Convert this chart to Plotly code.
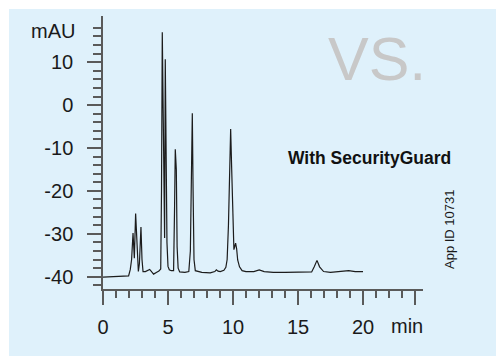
import plotly.graph_objects as go

# Chromatogram (time in min, absorbance in mAU)
time_min = [0, 1.0, 1.97, 2.1, 2.2, 2.31, 2.41, 2.51, 2.6, 2.72, 2.8, 2.92, 3.0, 3.08,
            3.26, 3.45, 3.59, 3.75, 3.89, 4.1, 4.3, 4.44, 4.5, 4.56, 4.62, 4.7, 4.74,
            4.79, 4.85, 4.92, 5.0, 5.1, 5.25, 5.43, 5.5, 5.56, 5.64, 5.7, 5.78, 5.9,
            6.3, 6.6, 6.72, 6.8, 6.87, 6.93, 7.0, 7.1, 7.6, 8.25, 8.6, 8.72, 8.85,
            9.02, 9.3, 9.45, 9.55, 9.65, 9.75, 9.82, 9.9, 9.98, 10.07, 10.2, 10.28,
            10.36, 10.5, 10.7, 11.0, 11.6, 12.02, 12.4, 13.1, 14.0, 15.2, 16.05,
            16.25, 16.46, 16.66, 16.97, 17.5, 18.5, 18.9, 19.4, 20.0]
mau = [-40.1, -40.0, -39.8, -38.3, -36.0, -29.8, -35.7, -25.3, -33.0, -38.8, -37.0,
       -28.4, -36.0, -38.8, -38.8, -38.6, -38.3, -38.9, -39.4, -39.0, -38.7, -38.2,
       -20.0, 17.0, -5.0, -28.0, -31.0, 10.7, -10.0, -32.0, -37.6, -38.4, -38.6,
       -38.6, -25.0, -10.3, -15.0, -33.0, -38.0, -38.9, -39.0, -38.8, -34.0, -18.0,
       -1.9, -20.0, -36.0, -38.6, -39.0, -39.1, -38.8, -38.4, -38.7, -38.8, -38.5,
       -37.8, -36.0, -28.0, -12.0, -5.6, -15.0, -28.0, -33.7, -32.2, -33.5, -36.1,
       -37.7, -38.6, -38.8, -38.8, -38.4, -38.8, -39.0, -39.0, -39.0, -38.9, -37.7,
       -36.2, -37.7, -38.8, -39.0, -38.7, -38.6, -38.8, -38.8]

x_tick_vals = [0, 5, 10, 15, 20, 24]
x_tick_text = ["0", "5", "10", "15", "20", ""]
y_tick_vals = [-40, -30, -20, -10, 0, 10]
y_tick_text = ["-40", "-30", "-20", "-10", "0", "10"]
y_minor_vals = list(range(-42, 20, 2))

BG = "#dff1fb"
AX = "#5a5a5a"
TXT = "#1a1a1a"
FONT = "Liberation Sans, Arial, Helvetica, sans-serif"

L, R, T, B = 103, 73, 16, 67
W, H = 496, 356
pw, ph = W - L - R, H - T - B

fig = go.Figure()
fig.add_trace(go.Scatter(x=time_min, y=mau, mode="lines",
                         line=dict(color="#1c1c1c", width=1.2),
                         hoverinfo="skip", showlegend=False))

fig.update_layout(
    width=W, height=H,
    margin=dict(l=L, r=R, t=T, b=B, pad=0),
    paper_bgcolor="white",
    plot_bgcolor="rgba(0,0,0,0)",
    font=dict(family=FONT, color=TXT, size=20),
    shapes=[dict(type="rect", xref="paper", yref="paper",
                 x0=(9 - L) / pw, x1=(W + 5 - L) / pw,
                 y0=1 - (H + 5 - T) / ph, y1=1 - (9 - T) / ph,
                 fillcolor=BG, line=dict(width=0), layer="below")],
    xaxis=dict(range=[0, pw / 13.0], showgrid=False, zeroline=False,
               showline=True, linecolor=AX, linewidth=1.5,
               tickmode="array", tickvals=x_tick_vals, ticktext=x_tick_text,
               ticks="outside", ticklen=14, tickwidth=1.5, tickcolor=AX,
               ticklabelstandoff=5,
               tickfont=dict(size=20, color=TXT, family=FONT),
               minor=dict(dtick=1, tick0=0, ticks="outside", ticklen=7,
                          tickwidth=1.5, tickcolor=AX, showgrid=False)),
    yaxis=dict(range=[-42.87, 20.77], showgrid=False, zeroline=False,
               showline=True, linecolor=AX, linewidth=1.5,
               tickmode="array", tickvals=y_tick_vals, ticktext=y_tick_text,
               ticks="outside", ticklen=14, tickwidth=1.5, tickcolor=AX,
               ticklabelstandoff=10,
               tickfont=dict(size=20, color=TXT, family=FONT),
               minor=dict(tickmode="array", tickvals=y_minor_vals,
                          ticks="outside", ticklen=8, tickwidth=1.5,
                          tickcolor=AX, showgrid=False)),
)

fig.add_annotation(text="mAU", xref="paper", yref="paper",
                   x=(77 - L) / pw, y=1 - (31 - T) / ph,
                   xanchor="right", yanchor="middle", showarrow=False,
                   font=dict(size=20, color=TXT, family=FONT))
fig.add_annotation(text="min", xref="paper", yref="paper",
                   x=(406.5 - L) / pw, y=1 - (325.5 - T) / ph,
                   xanchor="center", yanchor="middle", showarrow=False,
                   font=dict(size=20, color=TXT, family=FONT))
fig.add_annotation(text="VS.", xref="paper", yref="paper",
                   x=(377 - L) / pw, y=1 - (59 - T) / ph,
                   xanchor="center", yanchor="middle", showarrow=False,
                   font=dict(size=61, color="#c8c8c8", family=FONT))
fig.add_annotation(text="<b>With SecurityGuard</b>", xref="paper", yref="paper",
                   x=(369 - L) / pw, y=1 - (158 - T) / ph,
                   xanchor="center", yanchor="middle", showarrow=False,
                   font=dict(size=17.5, color="#111111", family=FONT))
fig.add_annotation(text="App ID 10731", xref="paper", yref="paper",
                   x=(449 - L) / pw, y=1 - (229 - T) / ph,
                   xanchor="center", yanchor="middle", showarrow=False,
                   textangle=-90,
                   font=dict(size=13, color=TXT, family=FONT))

fig.write_html("out.html")
